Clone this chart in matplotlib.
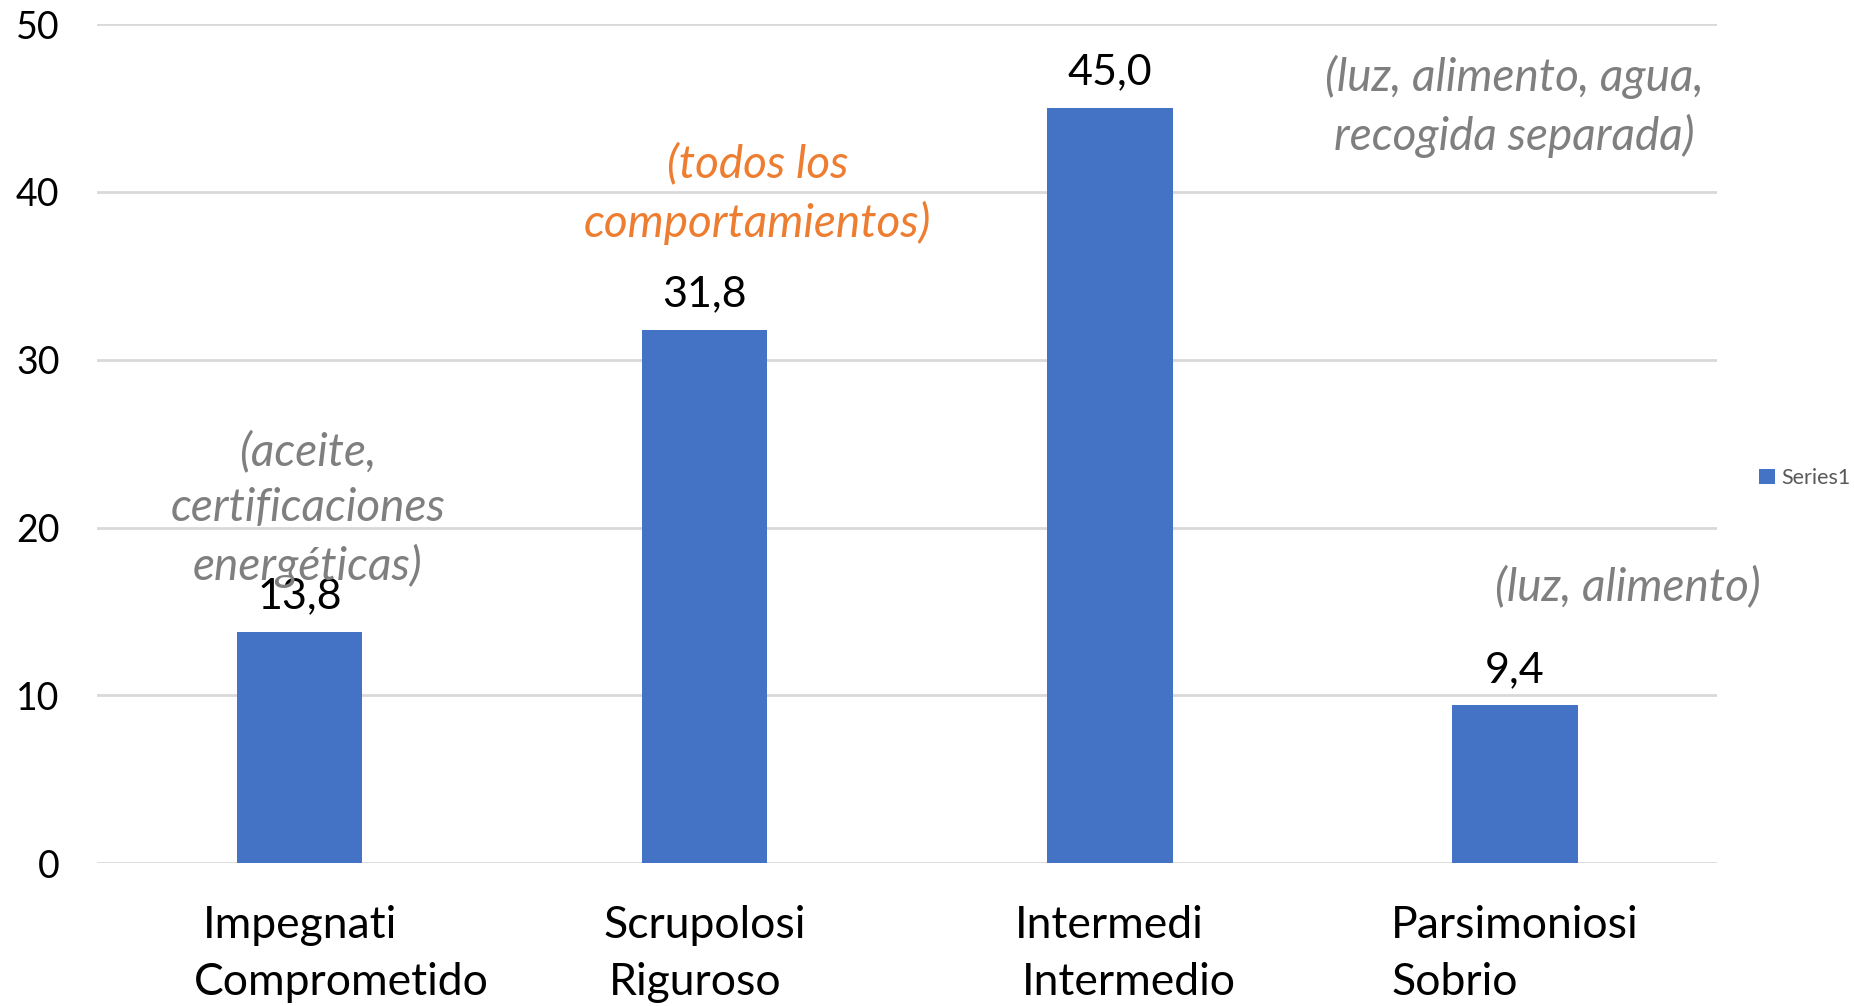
import matplotlib
matplotlib.use("Agg")
import matplotlib.pyplot as plt

plt.rcParams['font.family'] = ['Lato', 'DejaVu Sans']

# data
line1 = ["Impegnati", "Scrupolosi", "Intermedi", "Parsimoniosi"]
line2 = ["Comprometido", "Riguroso", "Intermedio", "Sobrio"]
line2_shift = [-6, 4, 5, 0]   # small horizontal nudges (points) as in the original
values = [13.8, 31.8, 45.0, 9.4]
value_labels = ["13,8", "31,8", "45,0", "9,4"]
notes = ["(aceite,\ncertificaciones\nenergéticas)",
         "(todos los\ncomportamientos)",
         "(luz, alimento, agua,\nrecogida separada)",
         "(luz, alimento)"]
note_x = [0.02, 1.13, 3.0, 3.28]
note_y = [21.1, 39.9, 45.1, 16.5]
note_colors = ["#7F7F7F", "#ED7D31", "#7F7F7F", "#7F7F7F"]

bar_color = "#4472C4"
grid_color = "#D9D9D9"

fig = plt.figure(figsize=(18.54, 10.06), dpi=100)
ax = fig.add_axes([0.0523, 0.142, 0.874, 0.834])

x = list(range(len(values)))
bars = ax.bar(x, values, width=0.31, color=bar_color, label="Series1", zorder=3)

ax.set_xlim(-0.5, 3.5)
ax.set_ylim(0, 50)
ax.set_yticks(range(0, 51, 10))
ax.yaxis.grid(True, color=grid_color, linewidth=2, zorder=0)
for s in ax.spines.values():
    s.set_visible(False)
ax.tick_params(axis='y', length=0, pad=27, labelsize=27, labelcolor='black')
ax.tick_params(axis='x', length=0, pad=30, labelsize=32)
ax.set_xticks(x)
ax.set_xticklabels(line1)

# second line of category labels, under the first
fig.canvas.draw()
for tl, t2, dx in zip(ax.get_xticklabels(), line2, line2_shift):
    ax.annotate(t2, xy=(0, 0), xycoords=tl, xytext=(dx, -12),
                textcoords='offset points', ha='left', va='top', fontsize=32)

for xi, v, lab in zip(x, values, value_labels):
    ax.annotate(lab, xy=(xi, v), xytext=(0, 12), textcoords='offset points',
                ha='center', va='bottom', fontsize=31)

for t, nx, ny, c in zip(notes, note_x, note_y, note_colors):
    ax.text(nx, ny, t, ha='center', va='center', fontsize=33, style='italic',
            color=c, linespacing=1.42)

leg = ax.legend(loc='center left', bbox_to_anchor=(1.026, 0.459), frameon=False,
                fontsize=15.5, handlelength=0.7, handleheight=0.7, handletextpad=0.3,
                borderpad=0, borderaxespad=0)
for t in leg.get_texts():
    t.set_color("#595959")

fig.savefig("out.png", dpi=100)
